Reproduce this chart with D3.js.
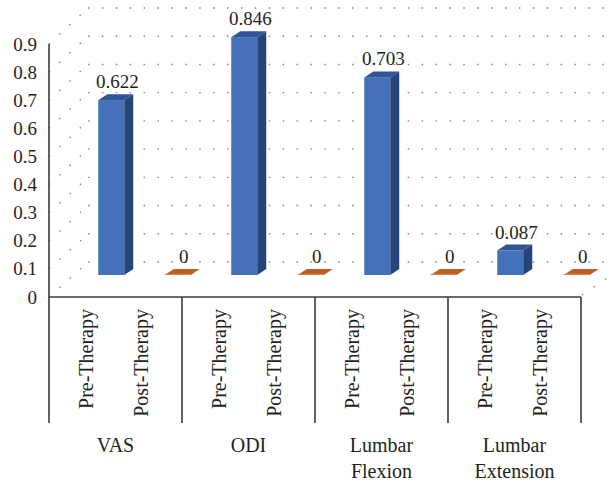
<!DOCTYPE html>
<html>
<head>
<meta charset="utf-8">
<script src="https://cdn.jsdelivr.net/npm/d3@7"></script>
<style>
  html, body { margin: 0; padding: 0; background: #fff; }
  svg { display: block; }
  text { font-family: "Liberation Serif", "Times New Roman", serif; fill: #231f20; }
</style>
</head>
<body>
<svg id="chart" width="610" height="483"></svg>
<script>
// Measures and phases
const categories = ["VAS", "ODI", "Lumbar Flexion", "Lumbar Extension"];
const categoryLines = [["VAS"], ["ODI"], ["Lumbar", "Flexion"], ["Lumbar", "Extension"]];
const phases = ["Pre-Therapy", "Post-Therapy"];
const preValues = [0.622, 0.846, 0.703, 0.087];
const postValues = [0, 0, 0, 0];
const tickValues = [0, 0.1, 0.2, 0.3, 0.4, 0.5, 0.6, 0.7, 0.8, 0.9];
const tickLabels = ["0", "0.1", "0.2", "0.3", "0.4", "0.5", "0.6", "0.7", "0.8", "0.9"];

const svg = d3.select("#chart");
const W = 610, H = 483;

// Plot geometry (front plane of the 3D box)
const left = 49, right = 581;
const floorFront = 297, topFront = 44;
const wallDX = 39, wallDY = -35;          // back wall offset
const barDX = 29, barDY = -22;            // bars sit part-way into the depth
const faceDX = 9, faceDY = -6;            // bar thickness
const catBottom = 423;

const yFront = d3.scaleLinear().domain([0, 0.9]).range([floorFront, topFront]);
const yBack = d3.scaleLinear().domain([0, 0.9]).range([floorFront + wallDY, topFront + wallDY - 1]);
const yBar = d3.scaleLinear().domain([0, 0.9]).range([floorFront + barDY, topFront + barDY]);

// One slot per (category, phase)
const bars = [];
categories.forEach((c, i) => {
  bars.push({ key: c + "|" + phases[0], cat: i, phase: 0, value: preValues[i] });
  bars.push({ key: c + "|" + phases[1], cat: i, phase: 1, value: postValues[i] });
});
const x = d3.scaleBand().domain(bars.map(d => d.key)).range([left, right])
  .paddingInner(0.609).paddingOuter(0.3045);
const xCat = d3.scaleBand().domain(categories).range([left, right]);

// Dotted walls
const dotStyle = sel => sel.attr("stroke", "#848484").attr("stroke-width", 1.4)
  .attr("stroke-dasharray", "1.5 12.4").attr("stroke-linecap", "butt").attr("fill", "none");

const walls = svg.append("g");
tickValues.forEach(v => {
  // side wall
  walls.append("line")
    .attr("x1", left).attr("y1", yFront(v))
    .attr("x2", left + wallDX).attr("y2", yBack(v))
    .call(dotStyle);
  // back wall
  walls.append("line")
    .attr("x1", left + wallDX).attr("y1", yBack(v))
    .attr("x2", W + 30).attr("y2", yBack(v))
    .call(dotStyle);
});
// right edge of the floor
walls.append("line")
  .attr("x1", right + 1).attr("y1", floorFront - 2)
  .attr("x2", right + 50).attr("y2", floorFront + wallDY)
  .call(dotStyle);

// Bars
const colors = {
  front: "#4571b9", top: "#2f5597", side: "#254578",
  flat: "#bf5f28", flatEdge: "#d98550"
};
const barG = svg.append("g");
const bw = x.bandwidth();
bars.forEach(d => {
  const x0 = x(d.key) + barDX;
  const yt = yBar(d.value), yb = yBar(0);
  const g = barG.append("g");
  const pts = a => a.map(p => p.join(",")).join(" ");
  if (d.value > 0) {
    g.append("rect").attr("x", x0).attr("y", yt).attr("width", bw).attr("height", yb - yt)
      .attr("fill", colors.front);
    g.append("polygon").attr("points", pts([[x0 + bw, yt], [x0 + bw + faceDX, yt + faceDY],
      [x0 + bw + faceDX, yb + faceDY], [x0 + bw, yb]])).attr("fill", colors.side);
    g.append("polygon").attr("points", pts([[x0, yt], [x0 + bw, yt],
      [x0 + bw + faceDX, yt + faceDY], [x0 + faceDX, yt + faceDY]])).attr("fill", colors.top);
  } else {
    g.append("polygon").attr("points", pts([[x0, yt], [x0 + bw, yt],
      [x0 + bw + faceDX, yt + faceDY], [x0 + faceDX, yt + faceDY]])).attr("fill", colors.flat);
    g.append("line").attr("x1", x0).attr("y1", yt - 0.5).attr("x2", x0 + bw).attr("y2", yt - 0.5)
      .attr("stroke", colors.flatEdge).attr("stroke-width", 1);
  }
  g.append("text")
    .attr("x", x0 + bw / 2 + 6)
    .attr("y", yt + faceDY - 6)
    .attr("text-anchor", "middle")
    .attr("font-size", 19)
    .text(d.value === 0 ? "0" : String(d.value));
});

// Value axis
const axisG = svg.append("g");
axisG.append("line").attr("x1", left).attr("y1", topFront).attr("x2", left).attr("y2", catBottom)
  .attr("stroke", "#3a3a3a").attr("stroke-width", 1.6);
tickValues.forEach((v, i) => {
  axisG.append("text")
    .attr("x", 37).attr("y", yFront(v))
    .attr("text-anchor", "end").attr("dominant-baseline", "central")
    .attr("font-size", 19)
    .text(tickLabels[i]);
});

// Category axis
const catG = svg.append("g");
catG.append("line").attr("x1", left).attr("y1", floorFront).attr("x2", right).attr("y2", floorFront)
  .attr("stroke", "#3a3a3a").attr("stroke-width", 1.6);
categories.forEach((c, i) => {
  const xr = xCat(c) + xCat.bandwidth();
  catG.append("line").attr("x1", xr).attr("y1", floorFront).attr("x2", xr).attr("y2", catBottom)
    .attr("stroke", "#3a3a3a").attr("stroke-width", 1.6);
  const cx = xCat(c) + xCat.bandwidth() / 2;
  phases.forEach((p, j) => {
    const px = cx + (j === 0 ? -27.5 : 27.5) + 5;
    catG.append("text")
      .attr("transform", `translate(${px},309) rotate(-90)`)
      .attr("text-anchor", "end")
      .attr("font-size", 20)
      .text(p);
  });
  categoryLines[i].forEach((line, k) => {
    catG.append("text")
      .attr("x", cx).attr("y", 452 + k * 26)
      .attr("text-anchor", "middle")
      .attr("font-size", 20)
      .text(line);
  });
});
</script>
</body>
</html>
